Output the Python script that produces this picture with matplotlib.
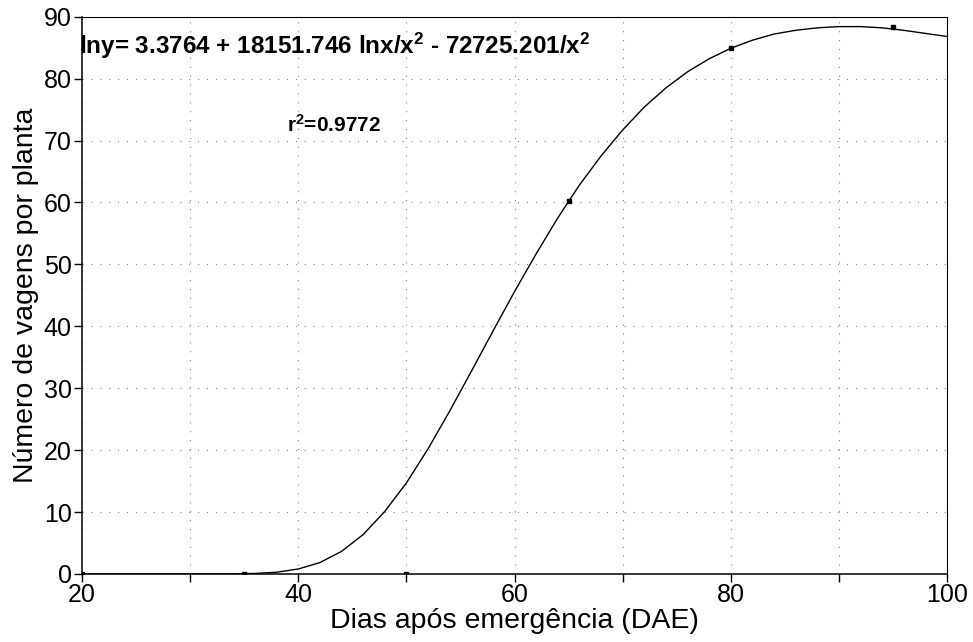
import numpy as np
import matplotlib
matplotlib.use("Agg")
import matplotlib.pyplot as plt
from matplotlib.ticker import MultipleLocator

plt.rcParams['font.family'] = ['Liberation Sans', 'DejaVu Sans']
plt.rcParams['mathtext.fontset'] = 'custom'
plt.rcParams['mathtext.rm'] = 'Liberation Sans:bold'
plt.rcParams['mathtext.default'] = 'rm'

# observed points (DAE, vagens por planta)
obs_x = [20, 35, 50, 65, 80, 95]
obs_y = [0.0, 0.0, 0.0, 60.2, 84.9, 88.3]

# fitted curve
fit_x = [20, 25, 30, 34, 36, 38, 40, 42, 44, 46, 48, 50, 52, 54, 56, 58, 60,
         62, 64, 66, 68, 70, 72, 74, 76, 78, 80, 82, 84, 86, 88, 90, 92, 94,
         96, 98, 100]
fit_y = [0.0, 0.0, 0.0, 0.02, 0.08, 0.28, 0.8, 1.84, 3.64, 6.36, 10.1, 14.7,
         20.2, 26.3, 32.7, 39.2, 45.6, 51.7, 57.5, 62.8, 67.5, 71.7, 75.4,
         78.5, 81.1, 83.2, 84.9, 86.2, 87.2, 87.8, 88.2, 88.4, 88.4, 88.2,
         87.8, 87.3, 86.8]

equation = r"lny= 3.3764 + 18151.746 lnx/x$^{2}$ - 72725.201/x$^{2}$"
r2_text = r"r$^{2}$=0.9772"

fig = plt.figure(figsize=(9.73, 6.42), dpi=100)
ax = fig.add_axes([0.0843, 0.106, 0.889, 0.868])

ax.plot(fit_x, fit_y, color='black', lw=1.0, zorder=3)
ax.plot(obs_x, obs_y, 's', color='black', ms=2.5, zorder=4)

ax.set_xlim(20, 100)
ax.set_ylim(0, 90)
ax.xaxis.set_major_locator(MultipleLocator(20))
ax.xaxis.set_minor_locator(MultipleLocator(10))
ax.yaxis.set_major_locator(MultipleLocator(10))
ax.tick_params(which='both', direction='out', length=5.5, width=1, labelsize=18, color='black')
ax.tick_params(axis='x', pad=1)
ax.tick_params(axis='y', pad=2)
ax.grid(True, which='both', ls=(0, (1, 7)), color='gray', lw=0.8)
for side in ['left', 'bottom']:
    ax.spines[side].set_linewidth(1.1)
for side in ['top', 'right']:
    ax.spines[side].set_linewidth(0.8)

ax.set_xlabel("Dias após emergência (DAE)", fontsize=20.5, labelpad=1)
ax.set_ylabel("Número de vagens por planta", fontsize=20.5, labelpad=3)

ax.text(-0.004, 0.948, equation, transform=ax.transAxes, fontsize=17.5,
        fontweight='bold', va='center', ha='left')
ax.text(0.237, 0.806, r2_text, transform=ax.transAxes, fontsize=15,
        fontweight='bold', va='center', ha='left')

fig.savefig("out.png", dpi=100)
